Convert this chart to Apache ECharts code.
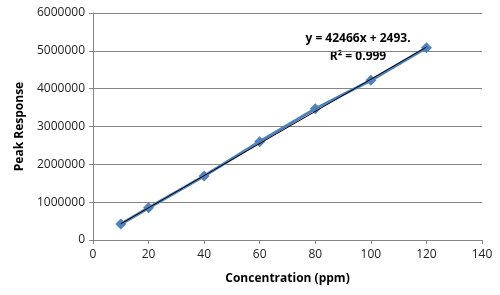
<!DOCTYPE html>
<html>
<head>
<meta charset="utf-8">
<script src="https://cdn.jsdelivr.net/npm/echarts@6/dist/echarts.min.js"></script>
<style>
html,body{margin:0;padding:0;background:#fff}
#chart{width:500px;height:295px}
</style>
</head>
<body>
<div id="chart"></div>
<script>
// concentration (ppm) and measured peak response
let concentration = [10, 20, 40, 60, 80, 100, 120]
let response = [420000, 850000, 1690000, 2600000, 3470000, 4220000, 5080000]
// linear trend end points
let trendX = [10, 120]
let trendY = [427000, 5098000]
let equationLines = ["y = 42466x + 2493.", "R² = 0.999"]

let pts = concentration.map((c, i) => [c, response[i]])
let trendPts = trendX.map((c, i) => [c, trendY[i]])

let chart = echarts.init(document.getElementById("chart"))
chart.setOption({
	animation: false,
	grid: { left: 93, right: 18, top: 13, bottom: 55 },
	textStyle: { fontFamily: "Open Sans" },
	xAxis: {
		type: "value",
		min: 0,
		max: 140,
		interval: 20,
		name: "Concentration (ppm)",
		nameLocation: "middle",
		nameGap: 33,
		nameTextStyle: { fontWeight: "bold", fontSize: 12, color: "#000" },
		axisLine: { lineStyle: { color: "#868686" } },
		axisTick: { show: true, length: 4, lineStyle: { color: "#868686" } },
		axisLabel: { color: "#222", fontSize: 12, margin: 9 },
		splitLine: { show: false }
	},
	yAxis: {
		type: "value",
		min: 0,
		max: 6000000,
		interval: 1000000,
		name: "Peak Response",
		nameLocation: "middle",
		nameGap: 67,
		nameTextStyle: { fontWeight: "bold", fontSize: 12, color: "#000" },
		axisLine: { show: true, lineStyle: { color: "#868686" } },
		axisTick: { show: true, length: 4, lineStyle: { color: "#868686" } },
		axisLabel: { color: "#222", fontSize: 12, margin: 8, formatter: v => String(v) },
		splitLine: { lineStyle: { color: "#868686" } }
	},
	series: [
		{
			name: "response",
			type: "line",
			data: pts,
			symbol: "diamond",
			symbolSize: 11,
			lineStyle: { color: "#4F81BD", width: 3 },
			itemStyle: { color: "#4F81BD" },
			z: 2
		},
		{
			name: "trend",
			type: "line",
			data: trendPts,
			symbol: "none",
			lineStyle: { color: "#000", width: 1 },
			z: 3
		}
	],
	graphic: equationLines.map((t, i) => ({
		type: "text",
		x: 358,
		y: 39 + i * 18,
		style: {
			text: t,
			font: "bold 12px 'Open Sans'",
			fill: "#000",
			align: "center",
			verticalAlign: "middle"
		}
	}))
})
</script>
</body>
</html>
